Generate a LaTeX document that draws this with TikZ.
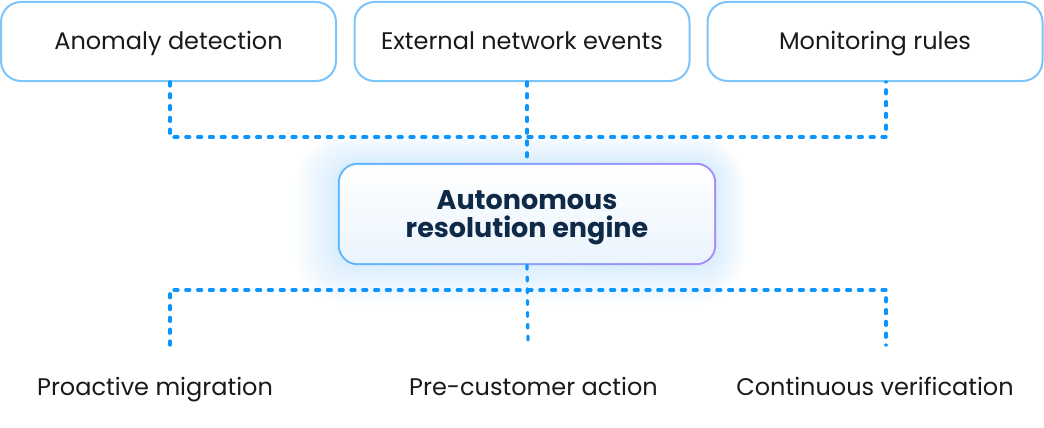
\documentclass[tikz,border=0pt]{standalone}
\usepackage{fontspec}
\setmainfont{Poppins}
\usetikzlibrary{backgrounds}

\definecolor{boxline}{HTML}{7CC5FB}
\definecolor{linkblue}{HTML}{0A95FF}
\definecolor{enginetext}{HTML}{0E2A47}
\definecolor{glowblue}{HTML}{8CC8F8}
\definecolor{borderleft}{HTML}{5CB8FF}
\definecolor{borderright}{HTML}{A78BFA}
\definecolor{enginefill}{HTML}{EAF4FD}

\tikzset{
  source/.style={draw=boxline, line width=2pt, rounded corners=20pt, fill=white,
    minimum width=335pt, minimum height=79pt, inner sep=0pt, text height=17pt, text depth=0pt,
    font=\fontsize{24}{28}\selectfont, text=black!90},
  engine/.style={minimum width=378pt, minimum height=102pt, inner sep=0pt},
  enginelabel/.style={inner sep=0pt, align=center,
    font=\fontsize{27}{28}\selectfont\bfseries, text=enginetext},
  outcome/.style={inner sep=0pt, text height=17pt, text depth=0pt,
    font=\fontsize{24}{28}\selectfont, text=black!90},
  link/.style={draw=linkblue, line width=3.2pt, line cap=round, dash pattern=on 4pt off 7.8pt}
}

\begin{document}
\begin{tikzpicture}[x=1pt, y=-1pt]
\useasboundingbox (0,0) rectangle (1044,428);

\node[source] (anomaly) at (168.5,41.5) {Anomaly detection};
\node[source] (external) at (522,41.5) {External network events};
\node[source] (rules) at (875,41.5) {Monitoring rules};

\node[engine] (res) at (527,214) {};
\node[enginelabel] (restext) at (527,218) {Autonomous\\resolution engine};

\node[outcome] (migration) at (155,387) {Proactive migration};
\node[outcome] (action) at (533.5,387) {Pre-customer action};
\node[outcome] (verify) at (875,387) {Continuous verification};

\coordinate (topjoin) at (528,137);
\coordinate (botjoin) at (528,290);
\coordinate (leftend) at (170,345);
\coordinate (midend) at (528,345);
\coordinate (rightend) at (886,345);

% glow and gradient border of the engine
\begin{scope}[on background layer]
  \foreach \g in {1,...,18}
    \fill[glowblue, opacity=0.02, rounded corners=20pt+\g*1.8pt]
      ([xshift=-\g*2.4pt, yshift=-\g*2.2pt]res.south west) rectangle ([xshift=\g*1.6pt, yshift=\g*1.6pt]res.north east);
  \shade[left color=borderleft, right color=borderright, rounded corners=20pt]
    (res.south west) rectangle (res.north east);
  \shade[top color=white, bottom color=enginefill, rounded corners=18pt]
    ([shift={(2pt,2pt)}]res.south west) rectangle ([shift={(-2pt,-2pt)}]res.north east);
\end{scope}

\draw[link] (anomaly.south -| leftend) |- (topjoin) -| (rules.south -| rightend);
\draw[link] (res.north |- external.south) -- (res.north);
\draw[link] (res.south) -- (midend);
\draw[link] (leftend) |- (botjoin) -| (rightend);
\end{tikzpicture}
\end{document}
